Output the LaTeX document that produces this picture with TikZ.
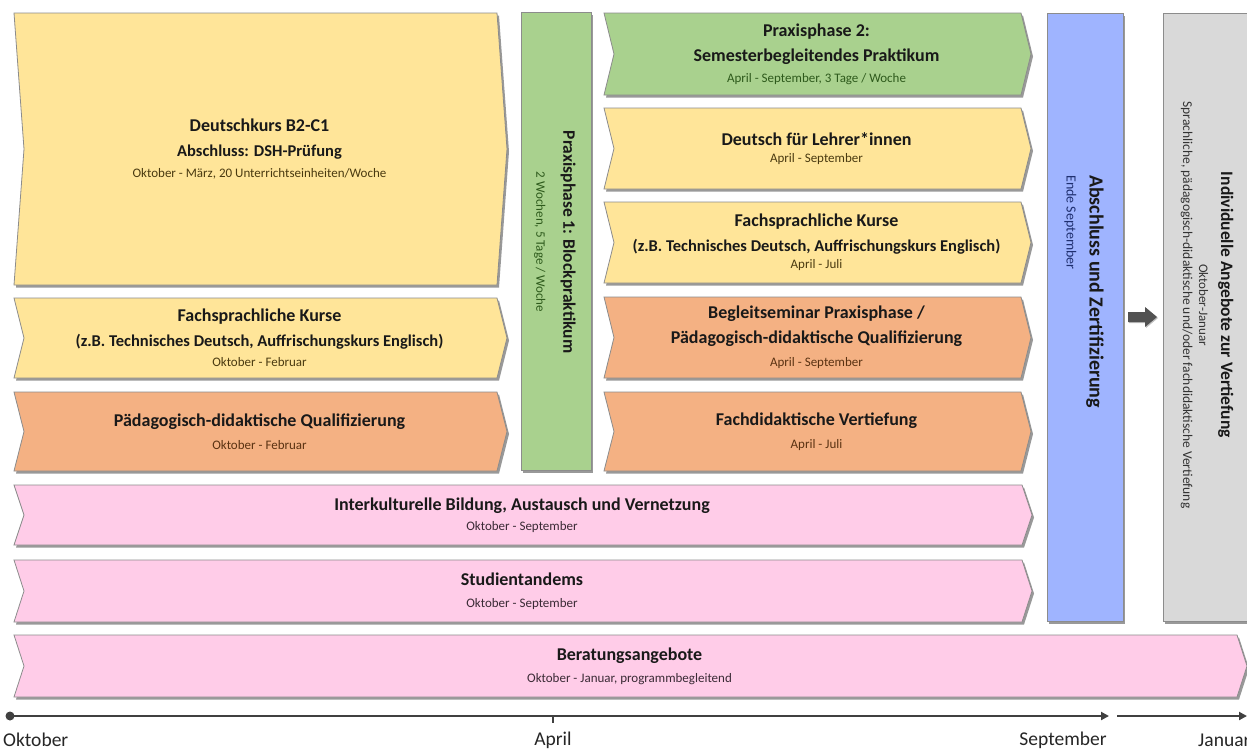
\documentclass[tikz,border=0pt]{standalone}
\usepackage{fontspec}
\setmainfont{Carlito}
\usetikzlibrary{shadows,arrows.meta}
\definecolor{cyel}{HTML}{FFE599}
\definecolor{cgrn}{HTML}{A9D18E}
\definecolor{cora}{HTML}{F4B183}
\definecolor{cpnk}{HTML}{FFCCE8}
\definecolor{cblu}{HTML}{9FB4FF}
\definecolor{cgry}{HTML}{D9D9D9}
\definecolor{cedge}{HTML}{8C8C8C}
\definecolor{tyel}{HTML}{4A3A10}
\definecolor{tgrn}{HTML}{2E5A1C}
\definecolor{tora}{HTML}{5A3212}
\definecolor{tpnk}{HTML}{3A2A35}
\definecolor{tblu}{HTML}{1F2F6F}
\definecolor{cline}{HTML}{404040}
\tikzset{
  box/.style={draw=cedge, line width=0.8pt,
    drop shadow={shadow xshift=2pt, shadow yshift=-2.5pt, fill=black, opacity=0.4}},
  txt/.style={align=center, inner sep=0pt, font=\fontsize{18}{25}\selectfont\bfseries, text=black!90},
  vtxt/.style={inner sep=0pt, rotate=-90, text=black!90},
  tl/.style={line width=2.6pt, draw=cline, -{Triangle[length=8pt,width=8pt]}},
  tlab/.style={font=\fontsize{19.5}{22}\selectfont, text=black!85, inner sep=0pt},
}
\newcommand\sub[2]{{\normalfont\fontsize{13}{14}\selectfont\color{#1}#2}}
\newcommand\med[1]{{\fontsize{16.5}{18}\selectfont #1}}
% #1 name, #2 x1, #3 y1, #4 x2, #5 y2, #6 fill, #7 text
\newcommand\chev[7]{%
  \path[box, fill=#6] (#2,#3) -- (#4,#3) -- ({#4+10},{(#3+#5)/2}) -- (#4,#5)
     -- (#2,#5) -- ({#2+10},{(#3+#5)/2}) -- cycle;
  \node[txt] (#1) at ({(#2+#4)/2+4},{(#3+#5)/2}) {#7};
}
\begin{document}
\begin{tikzpicture}[x=1pt,y=-1pt]
\clip (0,0) rectangle (1247,750);
\fill[white] (0,0) rectangle (1247,750);
% left column
\chev{dk}{14}{13}{497}{285}{cyel}{Deutschkurs B2-C1\\\med{Abschluss: DSH-Prüfung}\\[-4pt]\sub{tyel}{Oktober - März, 20 Unterrichtseinheiten/Woche}}
\chev{fkl}{14}{298}{497}{378}{cyel}{Fachsprachliche Kurse\\\med{(z.B. Technisches Deutsch, Auffrischungskurs Englisch)}\\[-5pt]\sub{tyel}{Oktober - Februar}}
\chev{pdl}{14}{392}{497}{471}{cora}{Pädagogisch-didaktische Qualifizierung\\[-2pt]\sub{tora}{Oktober - Februar}}
% Praxisphase 1
\path[box, fill=cgrn] (521,12) rectangle (591,470);
\node[vtxt, align=center, font=\fontsize{17.5}{27}\selectfont\bfseries] (pp1) at (555,242) {Praxisphase 1: Blockpraktikum\\\sub{tgrn}{2 Wochen, 5 Tage / Woche}};
% right column
\chev{pp2}{604}{13}{1021}{95}{cgrn}{Praxisphase 2:\\Semesterbegleitendes Praktikum\\[-4pt]\sub{tgrn}{April - September, 3 Tage / Woche}}
\chev{dfl}{604}{108}{1021}{189}{cyel}{Deutsch für Lehrer*innen\\[-7.5pt]\sub{tyel}{April - September}}
\chev{fkr}{604}{202}{1021}{283}{cyel}{Fachsprachliche Kurse\\\med{(z.B. Technisches Deutsch, Auffrischungskurs Englisch)}\\[-8pt]\sub{tyel}{April - Juli}}
\chev{bsp}{604}{297}{1021}{378}{cora}{Begleitseminar Praxisphase /\\Pädagogisch-didaktische Qualifizierung\\[-2pt]\sub{tora}{April - September}}
\chev{fdv}{604}{392}{1021}{471}{cora}{Fachdidaktische Vertiefung\\[-2pt]\sub{tora}{April - Juli}}
% wide rows
\chev{ikb}{14}{485}{1022}{545}{cpnk}{Interkulturelle Bildung, Austausch und Vernetzung\\[-5pt]\sub{tpnk}{Oktober - September}}
\chev{stt}{14}{560}{1022}{622}{cpnk}{Studientandems\\[-3pt]\sub{tpnk}{Oktober - September}}
\chev{ber}{14}{635}{1237}{697}{cpnk}{Beratungsangebote\\[-3pt]\sub{tpnk}{Oktober - Januar, programmbegleitend}}
% Abschluss
\path[box, fill=cblu] (1047,13) rectangle (1123,621);
\node[vtxt, align=left, anchor=west, font=\fontsize{20}{23}\selectfont\bfseries] (abs) at (1084,175) {Abschluss und Zertifizierung\\{\normalfont\fontsize{14}{15}\selectfont\color{tblu}Ende September}};
% block arrow
\path[fill=black!68, drop shadow={shadow xshift=1pt, shadow yshift=-1pt, fill=black, opacity=0.25}] (1128,312) -- (1145,312) -- (1145,307) -- (1157,317) -- (1145,327) -- (1145,322) -- (1128,322) -- cycle;
\node[inner sep=0pt, minimum size=1pt] (arr) at (1142,317) {};
% Individuelle
\path[box, fill=cgry] (1163,13) rectangle (1262,621);
\node[vtxt, align=center, font=\fontsize{17.5}{22}\selectfont\bfseries] (ind) at (1207,305) {Individuelle Angebote zur Vertiefung\\{\normalfont\fontsize{13}{14}\selectfont\color{black!80}Oktober-Januar}\\[-6pt]{\normalfont\fontsize{13.5}{14}\selectfont\color{black!80}Sprachliche, pädagogisch-didaktische und/oder fachdidaktische Vertiefung}};
% timeline
\coordinate (t0) at (10,716);
\coordinate (t1) at (1109,716);
\coordinate (t2) at (1117,716);
\coordinate (t3) at (1247,716);
\coordinate (ta) at (553,716);
\coordinate (tb) at (553,723);
\fill[cline] (t0) circle (4.5);
\draw[tl] (t0) -- (t1);
\draw[tl] (t2) -- (t3);
\draw[line width=2.2pt, draw=cline] (ta) -- (tb);
\node[tlab, anchor=west] (lok) at (3,740) {Oktober};
\node[tlab] (lap) at (553,740) {April};
\node[tlab] (lse) at (1063,740) {September};
\node[tlab, anchor=west] (lja) at (1198,740) {Januar};
\end{tikzpicture}
\end{document}
